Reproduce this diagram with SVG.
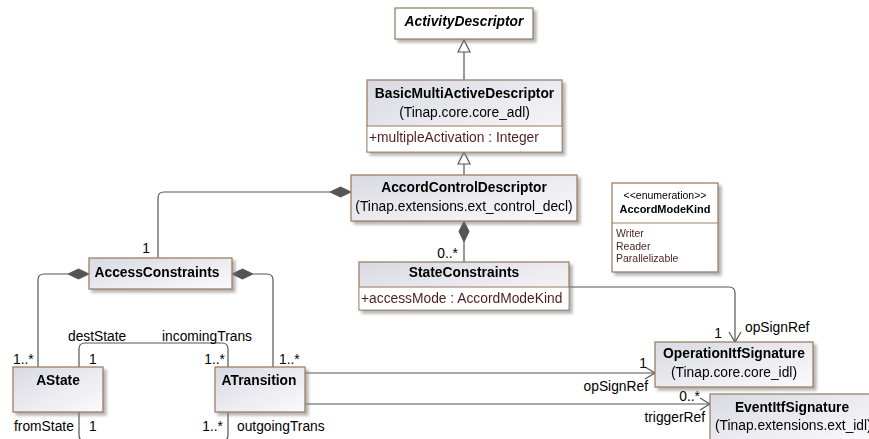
<svg xmlns="http://www.w3.org/2000/svg" width="869" height="439" viewBox="0 0 869 439">
<defs>
<linearGradient id="g" x1="0" y1="0" x2="1" y2="1">
<stop offset="0" stop-color="#d9d9e2"/>
<stop offset="1" stop-color="#fbfbfd"/>
</linearGradient>
<filter id="sh" x="-10%" y="-10%" width="130%" height="140%">
<feDropShadow dx="3" dy="3" stdDeviation="1.5" flood-color="#777" flood-opacity="0.55"/>
</filter>
<style>
.box{stroke:#9c8068;stroke-width:1.3;fill:url(#g)}
.wbox{stroke:#9c8068;stroke-width:1.3;fill:#fff}
.div{stroke:#9c8068;stroke-width:1.2}
text{font-family:"Liberation Sans",Arial,sans-serif;font-size:13.8px;fill:#000}
.t{font-weight:bold;text-anchor:middle}
.s{text-anchor:middle}
.a{fill:#4e1f1f}
.e{font-size:10.5px}
.eb{font-size:11px;font-weight:bold;text-anchor:middle}
.ln{fill:none;stroke:#555;stroke-width:1.2}
.dm{fill:#555;stroke:#555;stroke-width:1}
.gt{fill:#fff;stroke:#555;stroke-width:1.2}
.r{text-anchor:end}
</style>
</defs>

<g id="connectors">
<line class="ln" x1="464" y1="80" x2="464" y2="52"/>
<polygon class="gt" points="464,40 458,52 470,52"/>
<line class="ln" x1="464" y1="175" x2="464" y2="164"/>
<polygon class="gt" points="464,152 458,164 470,164"/>
<path class="ln" d="M330,192 H164 Q158,192 158,198 V258"/>
<polygon class="dm" points="330,192 340.5,187 351,192 340.5,197"/>
<line class="ln" x1="464" y1="242" x2="464" y2="262"/>
<polygon class="dm" points="464,221 469,231.5 464,242 459,231.5"/>
<path class="ln" d="M68,274 H44 Q38,274 38,280 V367"/>
<polygon class="dm" points="68,274 78.5,269 89,274 78.5,279"/>
<path class="ln" d="M253,274 H267 Q273,274 273,280 V367"/>
<polygon class="dm" points="232,274 242.5,269 253,274 242.5,279"/>
<path class="ln" d="M79,367 V349 Q79,343 85,343 H222 Q228,343 228,349 V367"/>
<path class="ln" d="M79,412 V435 Q79,441 85,441 H222 Q228,441 228,435 V412"/>
<path class="ln" d="M569,287 H729 Q735,287 735,293 V342"/>
<path class="ln" d="M729,332 L735,342 L741,332"/>
<path class="ln" d="M305,373 H655"/>
<path class="ln" d="M645,367 L655,373 L645,379"/>
<path class="ln" d="M305,404 H710"/>
<path class="ln" d="M700,398 L710,404 L700,410"/>
<text x="146" y="253" class="s">1</text>
<text x="458" y="258" class="r">0..*</text>
<text x="68" y="341">destState</text>
<text x="162" y="341">incomingTrans</text>
<text x="13" y="364">1..*</text>
<text x="89" y="364">1</text>
<text x="225" y="364" class="r">1..*</text>
<text x="279" y="364">1..*</text>
<text x="14" y="431">fromState</text>
<text x="89" y="431">1</text>
<text x="223" y="431" class="r">1..*</text>
<text x="237" y="431">outgoingTrans</text>
<text x="718" y="338" class="s">1</text>
<text x="745" y="332">opSignRef</text>
<text x="643" y="368" class="s">1</text>
<text x="648" y="391" class="r">opSignRef</text>
<text x="700" y="401" class="r">0..*</text>
<text x="705" y="422" class="r">triggerRef</text>
</g>

<g id="ActivityDescriptor" filter="url(#sh)">
<rect class="wbox" x="395" y="8" width="138" height="31"/>
<text x="464" y="26" class="t" font-style="italic">ActivityDescriptor</text>
</g>

<g id="BasicMultiActiveDescriptor" filter="url(#sh)">
<rect class="box" x="367" y="80" width="195" height="72"/>
<rect x="367.6" y="126.6" width="193.8" height="24.8" fill="#fff"/>
<line class="div" x1="367" y1="126" x2="562" y2="126"/>
<text x="464.5" y="98" class="t">BasicMultiActiveDescriptor</text>
<text x="464.5" y="117" class="s">(Tinap.core.core_adl)</text>
<text x="369" y="142" class="a">+multipleActivation : Integer</text>
</g>

<g id="AccordControlDescriptor" filter="url(#sh)">
<rect class="box" x="351" y="175" width="226" height="46"/>
<text x="464" y="192" class="t">AccordControlDescriptor</text>
<text x="464" y="211" class="s">(Tinap.extensions.ext_control_decl)</text>
</g>

<g id="StateConstraints" filter="url(#sh)">
<rect class="box" x="359" y="262" width="210" height="48"/>
<rect x="359.6" y="287.6" width="208.8" height="21.8" fill="#fff"/>
<line class="div" x1="359" y1="287" x2="569" y2="287"/>
<text x="464" y="277" class="t">StateConstraints</text>
<text x="361" y="303" class="a">+accessMode : AccordModeKind</text>
</g>

<g id="AccordModeKind" filter="url(#sh)">
<rect class="wbox" x="612" y="183" width="106" height="89"/>
<line class="div" x1="612" y1="223" x2="718" y2="223"/>
<text x="665" y="199" class="e" text-anchor="middle">&lt;&lt;enumeration&gt;&gt;</text>
<text x="665" y="213" class="eb">AccordModeKind</text>
<text x="616" y="237" class="e a">Writer</text>
<text x="616" y="250" class="e a">Reader</text>
<text x="616" y="262" class="e a">Parallelizable</text>
</g>

<g id="AccessConstraints" filter="url(#sh)">
<rect class="box" x="89" y="258" width="143" height="31"/>
<text x="157" y="277" class="t">AccessConstraints</text>
</g>

<g id="AState" filter="url(#sh)">
<rect class="box" x="13" y="367" width="90" height="45"/>
<text x="58" y="385" class="t">AState</text>
</g>

<g id="ATransition" filter="url(#sh)">
<rect class="box" x="215" y="367" width="90" height="45"/>
<text x="259" y="385" class="t">ATransition</text>
</g>

<g id="OperationItfSignature" filter="url(#sh)">
<rect class="box" x="655" y="342" width="158" height="45"/>
<text x="734" y="358" class="t">OperationItfSignature</text>
<text x="734" y="377" class="s">(Tinap.core.core_idl)</text>
</g>

<g id="EventItfSignature" filter="url(#sh)">
<rect class="box" x="710" y="394" width="166" height="50"/>
<text x="792" y="412" class="t">EventItfSignature</text>
<text x="715" y="430">(Tinap.extensions.ext_idl)</text>
</g>
</svg>
